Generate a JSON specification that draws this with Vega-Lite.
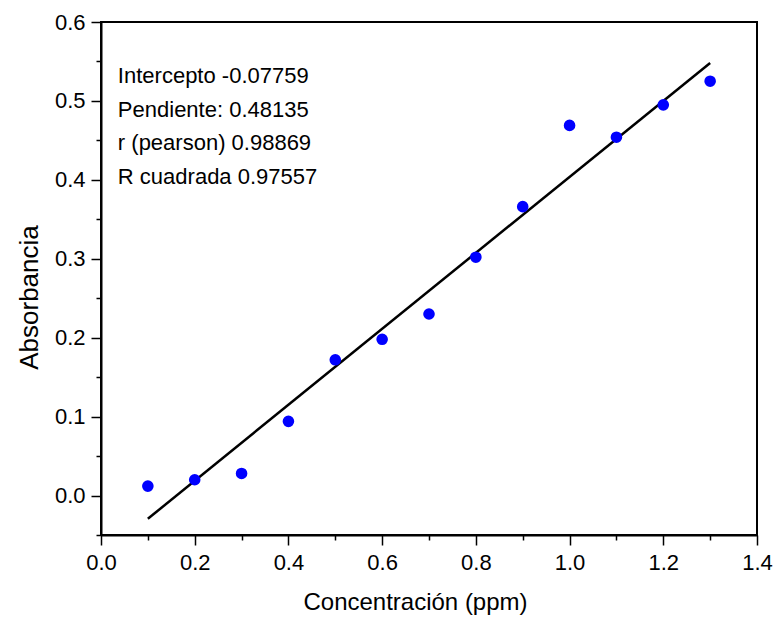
{
  "$schema": "https://vega.github.io/schema/vega-lite/v6.json",
  "width": 656,
  "height": 513,
  "autosize": {"type": "none"},
  "padding": {"left": 101, "top": 22, "right": 17, "bottom": 85},
  "background": "white",
  "config": {
    "view": {"stroke": "black", "strokeWidth": 2},
    "axis": {
      "domainColor": "black", "domainWidth": 2, "tickColor": "black", "tickWidth": 1.5,
      "labelFont": "Liberation Sans", "titleFont": "Liberation Sans",
      "labelColor": "black", "titleColor": "black", "grid": false, "labelFlush": false, "labelOverlap": false
    }
  },
  "datasets": {
    "pts": [
      {"conc": 0.1, "abs": 0.012},
      {"conc": 0.2, "abs": 0.020},
      {"conc": 0.3, "abs": 0.028},
      {"conc": 0.4, "abs": 0.094},
      {"conc": 0.5, "abs": 0.172},
      {"conc": 0.6, "abs": 0.198},
      {"conc": 0.7, "abs": 0.230},
      {"conc": 0.8, "abs": 0.302},
      {"conc": 0.9, "abs": 0.366},
      {"conc": 1.0, "abs": 0.469},
      {"conc": 1.1, "abs": 0.454},
      {"conc": 1.2, "abs": 0.495},
      {"conc": 1.3, "abs": 0.525}
    ],
    "fit": [
      {"conc": 0.1, "abs": -0.02946},
      {"conc": 1.3, "abs": 0.54816}
    ],
    "note": [
      {"label": "stats"}
    ]
  },
  "resolve": {"axis": {"x": "independent", "y": "independent"}},
  "layer": [
    {
      "data": {"name": "fit"},
      "mark": {"type": "line", "color": "black", "strokeWidth": 2.5},
      "encoding": {
        "x": {"field": "conc", "type": "quantitative", "scale": {"domain": [0, 1.4], "nice": false, "zero": false},
          "axis": {"orient": "bottom", "values": [0.1, 0.3, 0.5, 0.7, 0.9, 1.1, 1.3], "labels": false, "title": null, "tickSize": 5, "domain": false}},
        "y": {"field": "abs", "type": "quantitative", "scale": {"domain": [-0.05, 0.6], "nice": false, "zero": false},
          "axis": {"orient": "left", "values": [-0.05, 0.05, 0.15, 0.25, 0.35, 0.45, 0.55], "labels": false, "title": null, "tickSize": 5, "domain": false}}
      }
    },
    {
      "data": {"name": "pts"},
      "mark": {"type": "point", "filled": true, "shape": "circle", "size": 135, "color": "#0000FF", "opacity": 1},
      "encoding": {
        "x": {"field": "conc", "type": "quantitative", "scale": {"domain": [0, 1.4], "nice": false, "zero": false},
          "axis": {"orient": "bottom", "values": [0, 0.2, 0.4, 0.6, 0.8, 1.0, 1.2, 1.4], "format": ".1f", "tickSize": 10, "labelFontSize": 22, "labelPadding": 7,
            "title": "Concentración (ppm)", "titleFontSize": 24, "titleFontWeight": "normal", "titlePadding": 17, "titleX": 314}},
        "y": {"field": "abs", "type": "quantitative", "scale": {"domain": [-0.05, 0.6], "nice": false, "zero": false},
          "axis": {"orient": "left", "values": [0, 0.1, 0.2, 0.3, 0.4, 0.5, 0.6], "format": ".1f", "tickSize": 10, "labelFontSize": 22, "labelPadding": 6,
            "title": "Absorbancia", "titleFontSize": 26, "titleFontWeight": "normal", "titlePadding": 12, "titleY": 275}}
      }
    },
    {
      "data": {"name": "note"},
      "mark": {"type": "text", "align": "left", "baseline": "middle", "font": "Liberation Sans", "fontSize": 22, "lineHeight": 33.7, "color": "black",
        "text": ["Intercepto -0.07759", "Pendiente: 0.48135", "r (pearson) 0.98869", "R cuadrada 0.97557"]},
      "encoding": {
        "x": {"datum": 0.036, "type": "quantitative", "scale": {"domain": [0, 1.4], "nice": false, "zero": false}, "axis": null},
        "y": {"datum": 0.5316, "type": "quantitative", "scale": {"domain": [-0.05, 0.6], "nice": false, "zero": false}, "axis": null}
      }
    }
  ]
}
